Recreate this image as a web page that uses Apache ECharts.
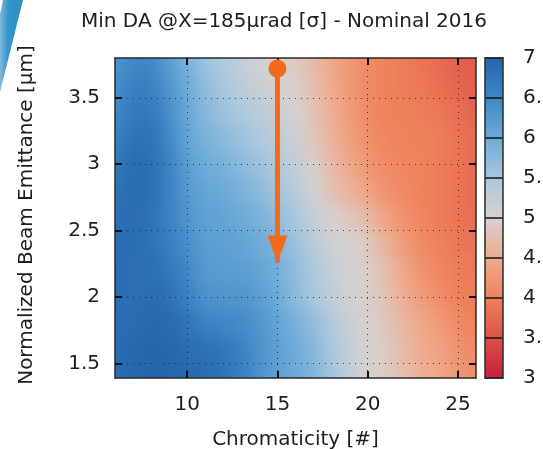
<!DOCTYPE html>
<html>
<head>
<meta charset="utf-8">
<script src="https://cdn.jsdelivr.net/npm/echarts@6/dist/echarts.min.js"></script>
<style>
  html, body { margin: 0; padding: 0; background: #fff; }
  #wrap { position: relative; width: 543px; height: 449px; overflow: hidden; background: #fff; }
  #heatClip { position: absolute; overflow: hidden; }
  #heat { position: absolute; width: 543px; height: 449px; filter: blur(8px); }
  #main { position: absolute; left: 0; top: 0; width: 543px; height: 449px; }
</style>
</head>
<body>
<div id="wrap">
  <div id="heatClip"><div id="heat"></div></div>
  <div id="main"></div>
</div>
<script>
// Scan grid: chromaticity (columns) and normalized emittance (rows, bottom to top)
const chromaticity = [6, 7, 8, 9, 10, 11, 12, 13, 14, 15, 16, 17, 18, 19, 20, 21, 22, 23, 24, 25, 26];
const emittance = [1.4, 1.6, 1.8, 2.0, 2.2, 2.4, 2.6, 2.8, 3.0, 3.2, 3.4, 3.6, 3.8];

// Minimum dynamic aperture [sigma], one row per emittance value
const minDA = [
  [6.9, 6.95, 7.0, 7.0, 6.95, 6.9, 6.8, 6.6, 6.35, 6.15, 6.0, 5.85, 5.55, 5.25, 5.0, 4.9, 4.75, 4.55, 4.45, 4.25, 4.15],
  [6.9, 6.95, 7.0, 7.0, 6.9, 6.85, 6.75, 6.6, 6.35, 6.15, 6.0, 5.8, 5.5, 5.2, 5.0, 4.9, 4.7, 4.5, 4.4, 4.2, 4.1],
  [6.9, 6.9, 6.95, 6.95, 6.8, 6.6, 6.5, 6.45, 6.3, 6.1, 5.9, 5.7, 5.4, 5.15, 5.0, 4.85, 4.65, 4.45, 4.3, 4.1, 4.0],
  [6.9, 6.85, 6.9, 6.85, 6.6, 6.35, 6.3, 6.3, 6.2, 6.0, 5.75, 5.5, 5.25, 5.05, 4.95, 4.8, 4.55, 4.3, 4.15, 4.0, 3.95],
  [6.9, 6.85, 6.85, 6.75, 6.5, 6.25, 6.2, 6.2, 6.1, 5.95, 5.7, 5.45, 5.2, 5.05, 4.95, 4.75, 4.45, 4.2, 4.05, 3.95, 3.9],
  [6.9, 6.9, 6.8, 6.65, 6.4, 6.2, 6.15, 6.1, 6.0, 5.85, 5.6, 5.35, 5.1, 5.0, 4.9, 4.6, 4.3, 4.1, 4.0, 3.9, 3.85],
  [6.85, 6.9, 6.8, 6.6, 6.3, 6.15, 6.1, 6.0, 5.9, 5.7, 5.5, 5.2, 5.0, 4.85, 4.7, 4.4, 4.2, 4.05, 3.95, 3.85, 3.8],
  [6.8, 6.9, 6.85, 6.6, 6.25, 6.1, 6.0, 5.9, 5.75, 5.55, 5.35, 5.05, 4.8, 4.6, 4.4, 4.2, 4.1, 4.0, 3.95, 3.85, 3.75],
  [6.7, 6.9, 6.85, 6.6, 6.2, 6.0, 5.9, 5.75, 5.6, 5.4, 5.25, 4.95, 4.7, 4.45, 4.25, 4.1, 4.05, 4.0, 3.95, 3.85, 3.75],
  [6.6, 6.8, 6.8, 6.5, 6.1, 5.9, 5.75, 5.6, 5.45, 5.3, 5.1, 4.85, 4.6, 4.35, 4.15, 4.05, 4.0, 4.0, 3.95, 3.85, 3.75],
  [6.5, 6.7, 6.7, 6.4, 6.05, 5.8, 5.6, 5.45, 5.3, 5.15, 5.0, 4.8, 4.55, 4.3, 4.1, 4.0, 4.0, 3.95, 3.9, 3.8, 3.7],
  [6.4, 6.6, 6.6, 6.3, 6.0, 5.7, 5.5, 5.3, 5.15, 5.05, 4.95, 4.75, 4.5, 4.25, 4.1, 4.0, 3.95, 3.9, 3.8, 3.7, 3.65],
  [6.3, 6.5, 6.5, 6.2, 5.9, 5.6, 5.4, 5.2, 5.05, 5.0, 4.9, 4.7, 4.45, 4.25, 4.1, 4.0, 3.95, 3.85, 3.75, 3.65, 3.6]
];

// Axis ticks
const xTickValues = [10, 15, 20, 25];
const yTickValues = [1.5, 2, 2.5, 3, 3.5];
const colorbarTicks = [3, 3.5, 4, 4.5, 5, 5.5, 6, 6.5, 7];

// Working point and the emittance shift it is moved along
const arrowStart = [15, 3.72];
const arrowEnd = [15, 2.26];

const xRange = [6, 26];
const yRange = [1.39, 3.8];
const daRange = [3, 7];
const palette = ['#c4213a', '#dd5146', '#ef825c', '#efab8d', '#d6d2d0', '#a9c8de', '#6dabd8', '#3f87c6', '#2465ac'];

const FONT = 'DejaVu Sans';
const INK = '#1e1e1e';
const ORANGE = '#f36a1c';
const PLOT = { left: 115, top: 58, width: 361, height: 320, outerBoundsMode: 'none', containLabel: false };
const BAR = { left: 485, top: 58, width: 18, height: 320, outerBoundsMode: 'none', containLabel: false };

const cells = [];
emittance.forEach((e, r) => chromaticity.forEach((c, k) => cells.push([c, e, minDA[r][k]])));

const halfX = (chromaticity[1] - chromaticity[0]) / 2;
const halfY = (emittance[1] - emittance[0]) / 2;

// ---- colour field layer (drawn underneath, softened) ----
const heat = echarts.init(document.getElementById('heat'), null, { renderer: 'canvas' });
heat.setOption({
  animation: false,
  grid: Object.assign({ show: false }, PLOT),
  xAxis: { type: 'value', min: xRange[0], max: xRange[1], show: false },
  yAxis: { type: 'value', min: yRange[0], max: yRange[1], show: false },
  visualMap: {
    type: 'continuous', show: false, dimension: 2,
    min: daRange[0], max: daRange[1], inRange: { color: palette }
  },
  series: [{
    type: 'custom',
    clip: false,
    data: cells,
    renderItem: function (params, api) {
      const x = api.value(0), y = api.value(1);
      let x0 = x - halfX, x1 = x + halfX, y0 = y - halfY, y1 = y + halfY;
      // stretch border cells outward so the softened edge stays outside the frame
      if (x === chromaticity[0]) x0 -= 2;
      if (x === chromaticity[chromaticity.length - 1]) x1 += 2;
      if (y === emittance[0]) y0 -= 0.4;
      if (y === emittance[emittance.length - 1]) y1 += 0.4;
      const p0 = api.coord([x0, y1]);
      const p1 = api.coord([x1, y0]);
      return {
        type: 'rect',
        shape: { x: p0[0], y: p0[1], width: p1[0] - p0[0] + 0.6, height: p1[1] - p0[1] + 0.6 },
        style: { fill: api.visual('color') }
      };
    }
  }]
});

// ---- frame, axes, arrow and colour bar ----
const main = echarts.init(document.getElementById('main'), null, { renderer: 'canvas' });

const frameLine = { show: true, onZero: false, lineStyle: { color: '#2a2a2a', width: 1.5 } };
const noLabel = { show: false };
const innerTick = (vals) => ({ show: true, inside: true, length: 7, customValues: vals, lineStyle: { color: '#111', width: 2 } });
const dotted = { show: true, lineStyle: { color: '#222', width: 1, type: [1, 5], opacity: 0.85 } };
const tickText = { fontFamily: FONT, fontSize: 20, color: INK };

main.setOption({
  animation: false,
  backgroundColor: 'transparent',
  grid: [
    Object.assign({ show: false }, PLOT),
    Object.assign({ show: false }, BAR)
  ],
  xAxis: [
    {
      gridIndex: 0, type: 'value', position: 'bottom', min: xRange[0], max: xRange[1],
      axisLine: frameLine, axisTick: innerTick(xTickValues),
      axisLabel: Object.assign({ customValues: xTickValues, margin: 17 }, tickText),
      splitLine: dotted,
      name: 'Chromaticity [#]', nameLocation: 'middle', nameGap: 52,
      nameTextStyle: { fontFamily: FONT, fontSize: 20, color: INK }
    },
    {
      gridIndex: 0, type: 'value', position: 'top', min: xRange[0], max: xRange[1],
      axisLine: frameLine, axisTick: innerTick(xTickValues), axisLabel: noLabel, splitLine: { show: false }
    },
    {
      gridIndex: 1, type: 'value', position: 'bottom', min: 0, max: 1, z: 10,
      axisLine: frameLine, axisTick: { show: false }, axisLabel: noLabel, splitLine: { show: false }
    },
    {
      gridIndex: 1, type: 'value', position: 'top', min: 0, max: 1, z: 10,
      axisLine: frameLine, axisTick: { show: false }, axisLabel: noLabel, splitLine: { show: false }
    }
  ],
  yAxis: [
    {
      gridIndex: 0, type: 'value', position: 'left', min: yRange[0], max: yRange[1],
      axisLine: frameLine, axisTick: innerTick(yTickValues),
      axisLabel: Object.assign({ customValues: yTickValues, margin: 15 }, tickText),
      splitLine: dotted,
      name: 'Normalized Beam Emittance [μm]', nameLocation: 'middle', nameGap: 78,
      nameTextStyle: { fontFamily: FONT, fontSize: 20, color: INK, padding: [0, 0, 0, 6] }
    },
    {
      gridIndex: 0, type: 'value', position: 'right', min: yRange[0], max: yRange[1],
      axisLine: frameLine, axisTick: innerTick(yTickValues), axisLabel: noLabel, splitLine: { show: false }
    },
    {
      gridIndex: 1, type: 'value', position: 'right', min: daRange[0], max: daRange[1], interval: 0.5, z: 10,
      axisLine: frameLine, axisTick: { show: false },
      axisLabel: Object.assign({ customValues: colorbarTicks, margin: 20 }, tickText),
      splitLine: { show: true, lineStyle: { color: '#151515', width: 1.5 } }
    },
    {
      gridIndex: 1, type: 'value', position: 'left', min: daRange[0], max: daRange[1], z: 10,
      axisLine: frameLine, axisTick: { show: false }, axisLabel: noLabel, splitLine: { show: false }
    }
  ],
  visualMap: {
    type: 'continuous', seriesIndex: [], min: daRange[0], max: daRange[1],
    left: 485, top: 58, itemWidth: 18, itemHeight: 320, padding: 0,
    calculable: false, inRange: { color: palette }, z: 2
  },
  graphic: [
    {
      type: 'polygon', z: 0,
      shape: { points: [[3, 0], [23, 0], [0, 92], [0, 14]] },
      style: {
        fill: new echarts.graphic.LinearGradient(0, 0, 1, 0, [
          { offset: 0, color: '#7fbadc' }, { offset: 0.35, color: '#3595c7' }, { offset: 1, color: '#2d8fc4' }
        ])
      }
    },
    {
      type: 'text', x: 284, y: 22,
      style: {
        text: 'Min DA @X=185μrad [σ] - Nominal 2016',
        fontFamily: FONT, fontSize: 20, fill: INK, align: 'center', verticalAlign: 'middle'
      }
    }
  ],
  series: [{
    type: 'line',
    xAxisIndex: 0, yAxisIndex: 0,
    silent: true, z: 5,
    lineStyle: { color: ORANGE, width: 5 },
    itemStyle: { color: ORANGE, borderWidth: 0 },
    data: [
      { value: arrowStart, symbol: 'circle', symbolSize: 18 },
      { value: arrowEnd, symbol: 'triangle', symbolSize: [20, 27], symbolRotate: 180, symbolOffset: [0, -13.5] }
    ]
  }]
});

// Fit the softened colour layer into the plot frame
const tl = main.convertToPixel({ gridIndex: 0 }, [xRange[0], yRange[1]]);
const br = main.convertToPixel({ gridIndex: 0 }, [xRange[1], yRange[0]]);
const clip = document.getElementById('heatClip');
clip.style.left = tl[0] + 'px';
clip.style.top = tl[1] + 'px';
clip.style.width = (br[0] - tl[0]) + 'px';
clip.style.height = (br[1] - tl[1]) + 'px';
const heatDiv = document.getElementById('heat');
heatDiv.style.left = (-tl[0]) + 'px';
heatDiv.style.top = (-tl[1]) + 'px';
</script>
</body>
</html>
